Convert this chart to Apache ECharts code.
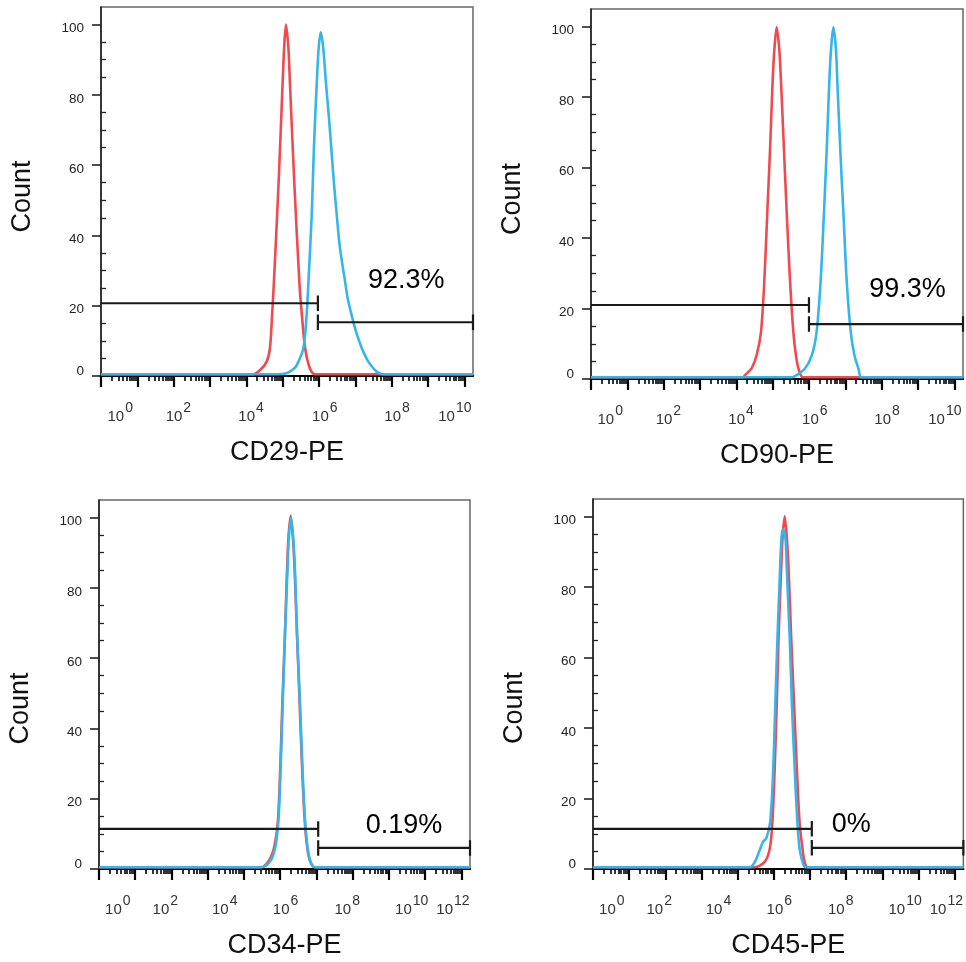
<!DOCTYPE html>
<html><head><meta charset="utf-8">
<script src="https://cdn.jsdelivr.net/npm/echarts@6/dist/echarts.min.js"></script>
<style>html,body{margin:0;padding:0;background:#fff}#c{width:966px;height:962px}</style>
</head><body><div id="c"></div>
<script>
// ---- data (x in channel units 0..1024, one major tick per decade = 100 channels; y = Count) ----
const markers = ['CD29-PE', 'CD90-PE', 'CD34-PE', 'CD45-PE'];

const cd29Control = [[0,0.5],[418,0.5],[438,1.7],[456,4.1],[465,7.9],[471,17.3],[476,26.8],[489,55.2],[500,83.6],[504,93.1],[509,100],[516,93.1],[520,83.6],[532,55.2],[546,26.8],[553,17.3],[562,7.9],[575,2.2],[589,0.5],[1024,0.5]];
const cd29Stained = [[0,0.5],[485,0.5],[511,0.8],[530,2.0],[539,3.1],[557,7.9],[566,17.3],[571,26.8],[580,45.7],[586,64.7],[594,83.6],[599,93.1],[605,97.8],[612,93.1],[619,83.6],[627,74.1],[634,64.7],[641,55.2],[649,45.7],[658,36.3],[672,26.8],[679,22.1],[690,17.3],[702,12.6],[718,7.9],[736,4.1],[759,1.2],[776,0.5],[1024,0.5]];

const cd90Control = [[0,0.5],[418,0.5],[424,1.1],[442,3.0],[456,6.8],[468,13.4],[477,27.6],[485,46.6],[493,65.5],[500,84.5],[505,93.9],[511,99.8],[518,93.9],[523,84.5],[531,65.5],[539,46.6],[548,27.6],[557,13.4],[564,6.8],[571,3.0],[584,0.5],[1024,0.5]];
const cd90Stained = [[0,0.5],[553,0.5],[566,1.1],[589,3.0],[608,6.8],[621,13.4],[632,27.6],[641,46.6],[649,65.5],[656,84.5],[661,93.9],[667,99.8],[674,93.9],[678,84.5],[686,65.5],[695,46.6],[704,27.6],[715,13.4],[725,6.8],[736,3.0],[745,0.5],[1024,0.5]];

const cd34Control = [[0,0.5],[448,0.5],[470,2.6],[484,6.5],[494,14],[500,28],[506,47],[513,66],[519,85],[523,94.5],[529,100.5],[535,94.5],[540,85],[547,65.7],[554,46.7],[561,27.7],[568,13.5],[575,5.9],[583,2.1],[595,0.5],[1024,0.5]];
const cd34Stained = [[0,0.5],[449,0.5],[472,2.1],[486,5.9],[495,13.5],[501,27.7],[507,46.7],[513,65.7],[520,84.7],[524,94.2],[530,99.9],[536,94.2],[541,84.7],[547,65.7],[555,46.7],[562,27.7],[569,13.5],[576,5.9],[584,2.1],[596,0.5],[1024,0.5]];

const cd45Control = [[0,0.5],[447,0.5],[475,2.1],[489,5.9],[496,13.4],[502,27.6],[508,46.6],[513,65.5],[520,84.5],[524,93.9],[530,100.1],[536,93.9],[541,84.5],[548,65.5],[556,46.6],[564,27.6],[571,13.4],[579,5.9],[585,2.1],[594,0.5],[1024,0.5]];
const cd45Stained = [[0,0.5],[433,0.5],[442,1.1],[452,3.0],[463,5.9],[470,7.7],[479,8.7],[490,13.4],[498,27.6],[504,46.6],[510,65.5],[517,84.5],[521,93.9],[525,96.3],[532,93.9],[536,84.5],[544,65.5],[550,46.6],[558,27.6],[565,13.4],[571,5.9],[579,2.1],[588,0.5],[1024,0.5]];

// gates: split channel, left-gate count level, right-gate count level
const gateSplit = [597, 600, 605, 605];
const gateLeftLevel = [20.7, 21.0, 11.4, 11.4];
const gateRightLevel = [15.3, 15.6, 6.0, 6.0];
const gatePercent = ['92.3%', '99.3%', '0.19%', '0%'];
const percentAt = [[840, 27.3], [871, 25.3], [842, 12.5], [714, 12.5]];

// x tick labels (positions in channels, exponent shown)
const topLabelPos = [53, 213, 413, 616, 815, 974];
const topLabelExp = [0, 2, 4, 6, 8, 10];
const bottomLabelPos = [52, 183, 347, 515, 685, 863, 977];
const bottomLabelExp = [0, 2, 4, 6, 8, 10, 12];
const yLabels = [0, 20, 40, 60, 80, 100];
const yMinor = [5, 10, 15, 25, 30, 35, 45, 50, 55, 65, 70, 75, 85, 90, 95];

// ---- layout / style ----
const FONT = '"Liberation Sans", Arial, Helvetica, sans-serif';
const RED = '#EF4A50';
const BLUE = '#36B5E8';
const grids = [
  {left: 101, top: 7, width: 372, height: 369},
  {left: 591, top: 9, width: 372, height: 370},
  {left: 99, top: 500, width: 371, height: 369},
  {left: 593, top: 499, width: 371, height: 370}
];
const controls = [cd29Control, cd90Control, cd34Control, cd45Control];
const stained = [cd29Stained, cd90Stained, cd34Stained, cd45Stained];
const majorTicks = [];
for (let d = 0; d <= 10; d++) majorTicks.push(d * 100);
const minorTicks = [];
for (let d = 0; d <= 10; d++) for (let m = 2; m <= 9; m++) {
  const v = d * 100 + 100 * Math.log10(m);
  if (v < 1024) minorTicks.push(+v.toFixed(2));
}
const countPad = [[0, 10, 0, 0], [0, 10, 0, 0], [0, 48, 0, 0], [0, 48, 0, 0]];
const namePad = [[0, 0, 0, 0], [0, 0, 0, 0], [0, 0, 0, 0], [0, 0, 0, 20]];
const BH = 2.2;

const xAxis = [], yAxis = [], series = [];
grids.forEach((g, i) => {
  const lp = i < 2 ? topLabelPos : bottomLabelPos;
  const le = i < 2 ? topLabelExp : bottomLabelExp;
  xAxis.push({
    type: 'value', gridIndex: i, min: 0, max: 1024, position: 'bottom',
    axisLine: {show: true, onZero: false, lineStyle: {color: '#000', width: 2}},
    axisTick: {show: true, length: 11, customValues: majorTicks, lineStyle: {color: '#000', width: 2.2}},
    axisLabel: {
      show: true, customValues: lp, margin: 25,
      formatter: v => { const k = lp.indexOf(v); return '{b|10}{s|' + le[k] + '}'; },
      rich: {
        b: {fontSize: 15, color: '#333', fontFamily: FONT, verticalAlign: 'bottom'},
        s: {fontSize: 14, color: '#333', fontFamily: FONT, verticalAlign: 'bottom', padding: [0, 0, 9, 1]}
      }
    },
    splitLine: {show: false},
    name: markers[i], nameLocation: 'middle', nameGap: 63,
    nameTextStyle: {fontSize: 27, color: '#111', fontFamily: FONT, padding: namePad[i]}
  });
  xAxis.push({
    type: 'value', gridIndex: i, min: 0, max: 1024, position: 'bottom',
    axisLine: {show: false}, axisLabel: {show: false}, splitLine: {show: false},
    axisTick: {show: true, length: 5, customValues: minorTicks, lineStyle: {color: '#000', width: 1.6}}
  });
  yAxis.push({
    type: 'value', gridIndex: i, min: 0, max: 105,
    axisLine: {show: true, lineStyle: {color: '#222', width: 1.6}},
    axisTick: {show: true, length: 9, customValues: yLabels, lineStyle: {color: '#222', width: 1.6}},
    axisLabel: {
      show: true, customValues: yLabels, margin: 17,
      formatter: v => v === 0 ? '{z|0}' : '{n|' + v + '}',
      rich: {
        z: {fontSize: 13.5, color: '#222', fontFamily: FONT, padding: [0, 0, 10, 0]},
        n: {fontSize: 13.5, color: '#222', fontFamily: FONT, padding: [8, 0, 0, 0]}
      }
    },
    splitLine: {show: false},
    name: 'Count', nameLocation: 'middle', nameGap: 65,
    nameTextStyle: {fontSize: 27, color: '#111', fontFamily: FONT, padding: countPad[i]}
  });
  yAxis.push({
    type: 'value', gridIndex: i, min: 0, max: 105,
    axisLine: {show: false}, axisLabel: {show: false}, splitLine: {show: false},
    axisTick: {show: true, length: 5, customValues: yMinor, lineStyle: {color: '#222', width: 1.3}}
  });
  const xi = 2 * i, yi = 2 * i;
  const lineCommon = {type: 'line', xAxisIndex: xi, yAxisIndex: yi, symbol: 'none', smooth: 0.3, silent: true};
  series.push(Object.assign({}, lineCommon, {data: controls[i], lineStyle: {color: RED, width: 2.6}, z: 3}));
  series.push(Object.assign({}, lineCommon, {data: stained[i], lineStyle: {color: BLUE, width: 2.6}, z: 4}));
  const s = gateSplit[i], L = gateLeftLevel[i], R = gateRightLevel[i];
  const gateCommon = {type: 'line', xAxisIndex: xi, yAxisIndex: yi, symbol: 'none', silent: true, lineStyle: {color: '#1a1a1a', width: 2.2}, z: 5};
  series.push(Object.assign({}, gateCommon, {data: [[0, L], [s, L], [s, L + BH], [s, L - BH]]}));
  series.push(Object.assign({}, gateCommon, {data: [[s, R + BH], [s, R - BH], [s, R], [1024, R], [1024, R + BH], [1024, R - BH]]}));
  series.push({
    type: 'scatter', xAxisIndex: xi, yAxisIndex: yi, symbolSize: 0, silent: true, z: 6,
    itemStyle: {color: '#000', opacity: 1},
    data: [percentAt[i]],
    label: {show: true, position: 'inside', formatter: () => gatePercent[i], fontSize: 27, color: '#000', textBorderWidth: 0, fontFamily: FONT}
  });
});

const chart = echarts.init(document.getElementById('c'), null, {renderer: 'canvas'});
chart.setOption({
  animation: false,
  backgroundColor: '#fff',
  grid: grids.map(g => Object.assign({show: true, borderColor: '#666', borderWidth: 1.5, backgroundColor: 'transparent'}, g)),
  xAxis, yAxis, series
});
</script></body></html>
